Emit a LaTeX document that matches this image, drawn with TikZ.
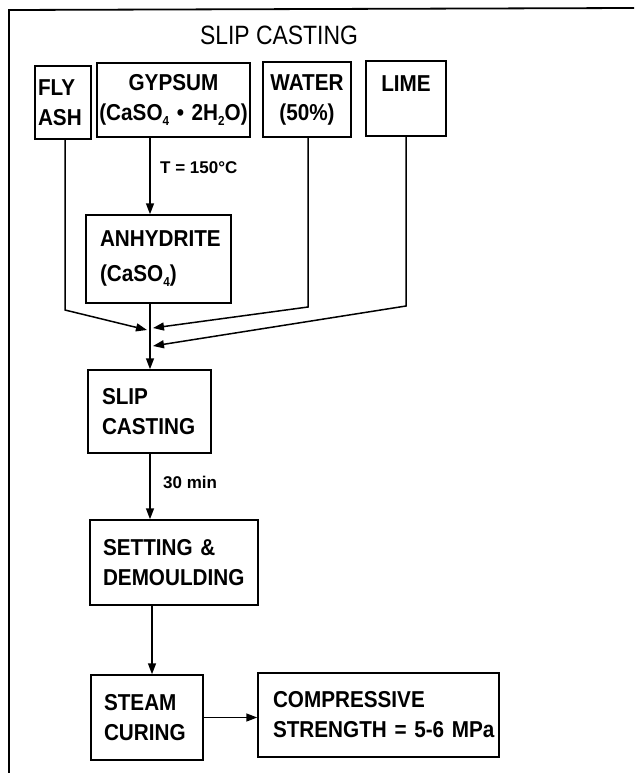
\documentclass[tikz,border=0pt]{standalone}
\usepackage{fontspec}
\setmainfont{Liberation Sans}[FakeStretch=0.9]
\newfontfamily\titlefont{Liberation Sans}[FakeStretch=0.865]
\newfontfamily\lblfont{Liberation Sans}
\usetikzlibrary{arrows.meta}
\newcommand{\subs}[1]{{\fontsize{13}{13}\selectfont\raisebox{-5pt}{#1}}}
\begin{document}
\begin{tikzpicture}[x=1pt,y=-1pt,
  box/.style={draw,line width=1.5pt,rectangle,inner ysep=0pt,
    font=\fontsize{23}{30}\selectfont\bfseries},
  arr/.style={line width=1.5pt,-{Triangle[length=11pt,width=8pt]}},
  ln/.style={line width=1.5pt},
  lbl/.style={anchor=base west,inner sep=0pt,font=\lblfont\fontsize{17}{20}\selectfont\bfseries}]
\useasboundingbox (0,0) rectangle (634,773);
% frame
\draw[line width=1.8pt] (9,773) -- (9,10) -- (634,8);
\node[inner sep=0pt,anchor=base,font=\titlefont\fontsize{26.5}{30}\selectfont] (title) at (279,45) {SLIP CASTING};
% input boxes
\node[box,minimum width=56pt,minimum height=73pt,inner xsep=3pt,text width=50pt,align=left] (fly) at (63,102.5) {FLY\\ASH};
\node[box,minimum width=153pt,minimum height=74pt,inner xsep=2pt,text width=149pt,align=center] (gyp) at (173.5,100) {GYPSUM\\(CaSO\subs{4} • 2H\subs{2}O)};
\node[box,minimum width=88pt,minimum height=75pt,inner xsep=2pt,text width=84pt,align=center] (water) at (307,99.5) {WATER\\(50\%)};
\node[box,minimum width=80pt,minimum height=75pt,inner xsep=2pt,text width=76pt,align=center] (lime) at (406,98.5) {LIME\\\mbox{}};
% process boxes
\node[box,minimum width=145pt,minimum height=88pt,inner xsep=14pt,text width=117pt,align=left] (anh) at (158.5,259) {ANHYDRITE\\[5pt](CaSO\subs{4})};
\node[box,minimum width=123pt,minimum height=83pt,inner xsep=14pt,text width=95pt,align=left] (slip) at (149.5,411.5) {SLIP\\CASTING};
\node[box,minimum width=168pt,minimum height=85pt,inner xsep=13pt,text width=142pt,align=left] (set) at (174,562.5) {\mbox{SETTING \&}\\DEMOULDING};
\node[box,minimum width=112pt,minimum height=85pt,inner xsep=13pt,text width=86pt,align=left] (steam) at (147,717.5) {STEAM\\CURING};
\node[box,minimum width=241pt,minimum height=84pt,inner xsep=15pt,text width=211pt,align=left] (comp) at (378.5,715) {\mbox{COMPRESSIVE}\\\mbox{STRENGTH = 5-6 MPa}};
% reference x positions
\coordinate (xa) at (150,0);
\coordinate (xb) at (152,0);
\coordinate (xf) at (65,0);
\coordinate (xw) at (308,0);
\coordinate (xl) at (406,0);
\coordinate (fbend) at (65,310);
\coordinate (wbend) at (308,307);
\coordinate (lbend) at (406,306);
\coordinate (fend) at (147,330);
\coordinate (wend) at (153,328);
\coordinate (lend) at (153,346);
% connectors
\draw[arr] (gyp.south -| xa) -- (anh.north -| xa);
\node[lbl] (tlbl) at (160,173) {T = 150°C};
\draw[arr] (fly.south -| xf) -- (fbend) -- (fend);
\draw[arr] (water.south -| xw) -- (wbend) -- (wend);
\draw[arr] (lime.south -| xl) -- (lbend) -- (lend);
\draw[arr] (anh.south -| xa) -- (slip.north -| xa);
\draw[arr] (slip.south -| xa) -- (set.north -| xa);
\node[lbl] (mlbl) at (163,488) {30 min};
\draw[arr] (set.south -| xb) -- (steam.north -| xb);
\draw[arr] (steam.east) -- (steam.east -| comp.west);
\end{tikzpicture}
\end{document}
